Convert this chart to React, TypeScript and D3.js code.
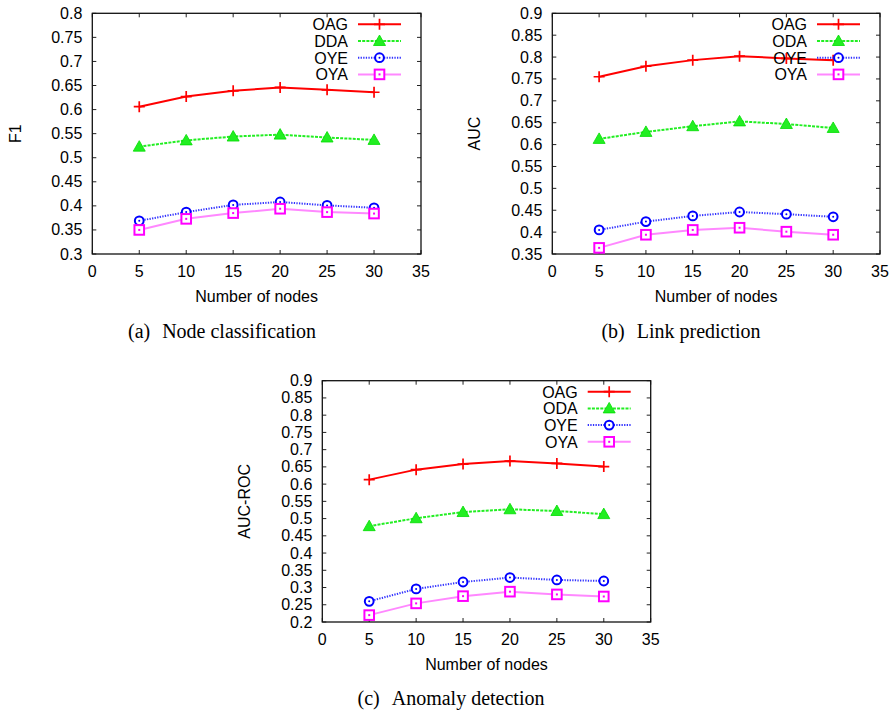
import React from "react";
import * as d3 from "d3";

// x values shared by all three panels
const nodeCounts = [5, 10, 15, 20, 25, 30];
const xTicks = [0, 5, 10, 15, 20, 25, 30, 35];

// (a) node classification, F1
const f1OAG = [0.606, 0.627, 0.639, 0.646, 0.641, 0.636];
const f1DDA = [0.523, 0.536, 0.544, 0.548, 0.542, 0.537];
const f1OYE = [0.369, 0.387, 0.402, 0.408, 0.401, 0.396];
const f1OYA = [0.350, 0.373, 0.385, 0.394, 0.387, 0.384];
const f1Ticks = [0.3, 0.35, 0.4, 0.45, 0.5, 0.55, 0.6, 0.65, 0.7, 0.75, 0.8];

// (b) link prediction, AUC
const aucOAG = [0.755, 0.779, 0.793, 0.802, 0.797, 0.793];
const aucODA = [0.613, 0.629, 0.642, 0.653, 0.647, 0.638];
const aucOYE = [0.405, 0.424, 0.437, 0.446, 0.441, 0.435];
const aucOYA = [0.364, 0.394, 0.405, 0.410, 0.401, 0.394];
const aucTicks = [0.35, 0.4, 0.45, 0.5, 0.55, 0.6, 0.65, 0.7, 0.75, 0.8, 0.85, 0.9];

// (c) anomaly detection, AUC-ROC
const rocOAG = [0.613, 0.642, 0.658, 0.667, 0.660, 0.651];
const rocODA = [0.478, 0.501, 0.519, 0.527, 0.522, 0.513];
const rocOYE = [0.260, 0.296, 0.316, 0.329, 0.322, 0.319];
const rocOYA = [0.220, 0.254, 0.275, 0.288, 0.280, 0.274];
const rocTicks = [0.2, 0.25, 0.3, 0.35, 0.4, 0.45, 0.5, 0.55, 0.6, 0.65, 0.7, 0.75, 0.8, 0.85, 0.9];

const styles = [
    { color: "#ff0000", line: "#ff0000", dash: null, marker: "plus" },
    { color: "#00dd00", line: "#22ee22", dash: "3,1.2", marker: "triangle" },
    { color: "#0000ff", line: "#3333ff", dash: "1.3,1.3", marker: "circle" },
    { color: "#ff00ff", line: "#ff88ff", dash: null, marker: "square" },
];

const panels = [
    {
        names: ["OAG", "DDA", "OYE", "OYA"],
        series: [f1OAG, f1DDA, f1OYE, f1OYA],
        yTicks: f1Ticks,
        yLabel: "F1",
        caption: ["(a)", "Node classification"],
        box: { left: 92.3, right: 421, top: 13.3, bottom: 254 },
        yLabelX: 15,
        captionX: 222,
        captionY: 338,
    },
    {
        names: ["OAG", "ODA", "OYE", "OYA"],
        series: [aucOAG, aucODA, aucOYE, aucOYA],
        yTicks: aucTicks,
        yLabel: "AUC",
        caption: ["(b)", "Link prediction"],
        box: { left: 552.3, right: 880, top: 13.3, bottom: 254 },
        yLabelX: 474,
        captionX: 681,
        captionY: 338,
    },
    {
        names: ["OAG", "ODA", "OYE", "OYA"],
        series: [rocOAG, rocODA, rocOYE, rocOYA],
        yTicks: rocTicks,
        yLabel: "AUC-ROC",
        caption: ["(c)", "Anomaly detection"],
        box: { left: 322.3, right: 650.7, top: 380.7, bottom: 622 },
        yLabelX: 244,
        captionX: 451,
        captionY: 705,
    },
];

const font = "'Liberation Sans', Arial, sans-serif";

function drawMarker(g, kind, x, y, color) {
    if (kind === "plus") {
        g.append("path")
            .attr("d", `M${x - 5.5},${y}H${x + 5.5}M${x},${y - 5.5}V${y + 5.5}`)
            .attr("stroke", color)
            .attr("stroke-width", 1.7)
            .attr("fill", "none");
    } else if (kind === "triangle") {
        g.append("path")
            .attr("d", `M${x},${y - 6}L${x + 6},${y + 4.5}L${x - 6},${y + 4.5}Z`)
            .attr("fill", "#22ee22")
            .attr("stroke", color)
            .attr("stroke-width", 0.8);
    } else if (kind === "circle") {
        g.append("circle")
            .attr("cx", x)
            .attr("cy", y)
            .attr("r", 4.4)
            .attr("fill", "white")
            .attr("stroke", color)
            .attr("stroke-width", 2);
        g.append("circle").attr("cx", x).attr("cy", y).attr("r", 1).attr("fill", color);
    } else {
        g.append("rect")
            .attr("x", x - 4.8)
            .attr("y", y - 4.8)
            .attr("width", 9.6)
            .attr("height", 9.6)
            .attr("fill", "white")
            .attr("stroke", color)
            .attr("stroke-width", 2);
        g.append("rect").attr("x", x - 1).attr("y", y - 1).attr("width", 2).attr("height", 2).attr("fill", color);
    }
}

function drawPanel(svg, p) {
    const { left, right, top, bottom } = p.box;
    const x = d3.scaleLinear().domain([0, 35]).range([left, right]);
    const y = d3
        .scaleLinear()
        .domain([p.yTicks[0], p.yTicks[p.yTicks.length - 1]])
        .range([bottom, top]);
    const g = svg.append("g");
    const fmt = d3.format(".2~f");

    // ticks, mirrored inside on all four sides
    xTicks.forEach((t) => {
        g.append("line").attr("x1", x(t)).attr("x2", x(t)).attr("y1", bottom).attr("y2", bottom - 4).attr("stroke", "#222");
        g.append("line").attr("x1", x(t)).attr("x2", x(t)).attr("y1", top).attr("y2", top + 4).attr("stroke", "#222");
        g.append("text")
            .attr("x", x(t))
            .attr("y", bottom + 23)
            .attr("text-anchor", "middle")
            .attr("font-family", font)
            .attr("font-size", 16)
            .text(t);
    });
    p.yTicks.forEach((t) => {
        g.append("line").attr("x1", left).attr("x2", left + 4).attr("y1", y(t)).attr("y2", y(t)).attr("stroke", "#222");
        g.append("line").attr("x1", right).attr("x2", right - 4).attr("y1", y(t)).attr("y2", y(t)).attr("stroke", "#222");
        g.append("text")
            .attr("x", left - 10)
            .attr("y", y(t) + 5.5)
            .attr("text-anchor", "end")
            .attr("font-family", font)
            .attr("font-size", 16)
            .text(fmt(t));
    });

    g.append("rect")
        .attr("x", left)
        .attr("y", top)
        .attr("width", right - left)
        .attr("height", bottom - top)
        .attr("fill", "none")
        .attr("stroke", "#111")
        .attr("stroke-width", 1.3);

    // axis titles
    g.append("text")
        .attr("x", (left + right) / 2)
        .attr("y", bottom + 48)
        .attr("text-anchor", "middle")
        .attr("font-family", font)
        .attr("font-size", 16)
        .text("Number of nodes");
    g.append("text")
        .attr("transform", `translate(${p.yLabelX + 5.5},${(top + bottom) / 2}) rotate(-90)`)
        .attr("text-anchor", "middle")
        .attr("font-family", font)
        .attr("font-size", 16)
        .text(p.yLabel);

    // caption
    const cap = g
        .append("text")
        .attr("x", p.captionX)
        .attr("y", p.captionY)
        .attr("text-anchor", "middle")
        .attr("font-family", "'Liberation Serif', 'Times New Roman', serif")
        .attr("font-size", 20);
    cap.append("tspan").text(p.caption[0]);
    cap.append("tspan").attr("dx", 12).text(p.caption[1]);

    // series
    const line = d3
        .line()
        .x((d, i) => x(nodeCounts[i]))
        .y((d) => y(d));
    p.series.forEach((vals, si) => {
        const s = styles[si];
        g.append("path")
            .attr("d", line(vals))
            .attr("fill", "none")
            .attr("stroke", s.line)
            .attr("stroke-width", 2)
            .attr("stroke-dasharray", s.dash);
    });
    p.series.forEach((vals, si) => {
        const s = styles[si];
        vals.forEach((v, i) => drawMarker(g, s.marker, x(nodeCounts[i]), y(v), s.color));
    });

    // legend
    p.names.forEach((name, i) => {
        const ly = top + 11 + i * 16.7;
        g.append("text")
            .attr("x", right - 73)
            .attr("y", ly + 5.8)
            .attr("text-anchor", "end")
            .attr("font-family", font)
            .attr("font-size", 16)
            .text(name);
        const s = styles[i];
        g.append("line")
            .attr("x1", right - 63)
            .attr("x2", right - 20)
            .attr("y1", ly)
            .attr("y2", ly)
            .attr("stroke", s.line)
            .attr("stroke-width", 2)
            .attr("stroke-dasharray", s.dash);
        drawMarker(g, s.marker, right - 41.5, ly, s.color);
    });
}

export default function App() {
    const ref = React.useRef(null);

    React.useEffect(() => {
        const svg = d3.select(ref.current);
        svg.selectAll("*").remove();
        svg.append("rect").attr("width", 893).attr("height", 711).attr("fill", "white");
        panels.forEach((p) => drawPanel(svg, p));
    }, []);

    return (
        <svg
            ref={ref}
            width={893}
            height={711}
            style={{ position: "absolute", left: 0, top: 0 }}
        />
    );
}
